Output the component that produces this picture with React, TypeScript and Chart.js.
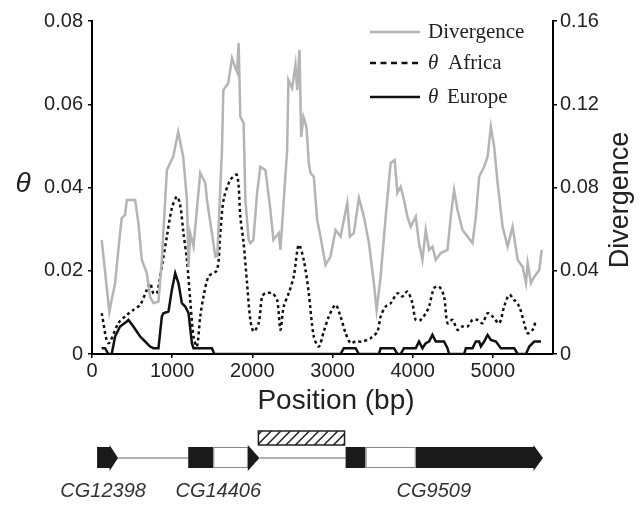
import React, { useEffect, useRef } from "react";
import { Chart, registerables } from "chart.js";

Chart.register(...registerables);

// ---------- data ----------
const seriesNames = ["Divergence", "Africa", "Europe"];

const divPos = [121,216,288,350,371,413,434,538,579,621,684,725,766,829,871,934,975,1013,1075,1138,1184,1204,1225,1266,1350,1413,1434,1496,1538,1563,1621,1638,1700,1746,1788,1809,1829,1850,1891,1913,1954,1975,2013,2059,2100,2163,2225,2263,2329,2350,2434,2450,2496,2538,2559,2588,2609,2638,2675,2704,2725,2766,2809,2850,2913,2975,3038,3100,3184,3216,3266,3329,3391,3454,3516,3550,3600,3663,3725,3775,3809,3850,3891,3934,3975,4038,4079,4121,4163,4204,4246,4288,4350,4434,4475,4516,4559,4621,4684,4746,4788,4829,4891,4934,4975,5016,5059,5121,5184,5246,5309,5371,5413,5434,5475,5516,5579,5609];
const divVal = [0.0548,0.0203,0.0341,0.0581,0.0653,0.0668,0.0740,0.0740,0.0629,0.0452,0.0389,0.0275,0.0245,0.0251,0.0452,0.0884,0.0918,0.0947,0.1067,0.0947,0.0740,0.0419,0.0581,0.0516,0.0870,0.0822,0.0740,0.0581,0.0468,0.0471,0.0980,0.1268,0.1302,0.1422,0.1374,0.1356,0.1494,0.1139,0.1110,0.0740,0.0548,0.0533,0.0548,0.0774,0.0899,0.0884,0.0692,0.0548,0.0581,0.0500,0.0980,0.1317,0.1278,0.1389,0.1268,0.1461,0.1043,0.1139,0.1091,0.0918,0.0870,0.0852,0.0644,0.0564,0.0428,0.0468,0.0596,0.0564,0.0726,0.0564,0.0581,0.0750,0.0660,0.0533,0.0341,0.0211,0.0371,0.0660,0.0918,0.0932,0.0774,0.0804,0.0740,0.0660,0.0612,0.0660,0.0533,0.0452,0.0596,0.0500,0.0516,0.0452,0.0485,0.0500,0.0660,0.0788,0.0692,0.0596,0.0564,0.0533,0.0660,0.0852,0.0900,0.0948,0.1092,0.0996,0.0822,0.0612,0.0516,0.0612,0.0452,0.0419,0.0341,0.0437,0.0341,0.0371,0.0404,0.0500];

const afrPos = [121,204,329,434,516,600,684,725,766,809,871,934,996,1059,1100,1141,1184,1225,1266,1309,1350,1391,1454,1559,1600,1641,1725,1809,1850,1891,1934,1975,2016,2079,2121,2163,2246,2309,2350,2391,2454,2516,2579,2641,2704,2766,2829,2891,2954,3038,3100,3163,3225,3288,3371,3475,3559,3600,3663,3725,3809,3871,3934,3996,4038,4100,4163,4204,4266,4329,4391,4434,4496,4559,4621,4684,4746,4809,4871,4934,4996,5079,5141,5204,5266,5329,5391,5434,5496,5538];
const afrVal = [0.0098,0.0026,0.0074,0.0094,0.0106,0.0118,0.0154,0.0170,0.0146,0.0146,0.0210,0.0282,0.0350,0.0378,0.0358,0.0290,0.0226,0.0130,0.0042,0.0018,0.0090,0.0138,0.0186,0.0202,0.0290,0.0370,0.0418,0.0430,0.0330,0.0266,0.0170,0.0082,0.0054,0.0074,0.0138,0.0146,0.0146,0.0130,0.0058,0.0114,0.0146,0.0186,0.0262,0.0226,0.0146,0.0042,0.0018,0.0054,0.0090,0.0118,0.0090,0.0050,0.0026,0.0030,0.0030,0.0038,0.0054,0.0090,0.0114,0.0122,0.0146,0.0138,0.0150,0.0122,0.0082,0.0082,0.0098,0.0114,0.0158,0.0162,0.0138,0.0074,0.0082,0.0058,0.0066,0.0066,0.0082,0.0082,0.0074,0.0098,0.0090,0.0074,0.0114,0.0142,0.0130,0.0114,0.0074,0.0050,0.0058,0.0082];

const eurPos = [121,163,204,246,288,350,434,454,516,600,663,725,766,829,871,891,954,996,1038,1079,1121,1163,1204,1246,1266,1496,1525,3100,3141,3288,3329,3579,3600,3766,3809,3850,3891,4038,4079,4121,4163,4204,4246,4288,4391,4434,4454,4641,4663,4746,4788,4829,4850,4891,4934,4975,5038,5100,5266,5309,5413,5454,5516,5600];
const eurVal = [0.0014,0.0014,0,0,0.0042,0.0066,0.0078,0.0082,0.0066,0.0042,0.0030,0.0018,0.0014,0.0014,0.0090,0.0098,0.0102,0.0154,0.0194,0.0170,0.0122,0.0114,0.0098,0.0026,0.0014,0.0014,0,0,0.0014,0.0014,0,0,0.0014,0.0014,0,0,0.0014,0.0014,0.0030,0.0014,0.0026,0.0030,0.0046,0.0030,0.0030,0.0014,0,0,0.0014,0.0014,0.0030,0.0030,0.0018,0.0030,0.0046,0.0034,0.0030,0.0014,0.0014,0,0,0.0018,0.0030,0.0030];

const xTicks = [0, 1000, 2000, 3000, 4000, 5000];
const thetaTicks = [0, 0.02, 0.04, 0.06, 0.08];
const divTicks = [0, 0.04, 0.08, 0.12, 0.16];

// gene model (bp)
const geneNames = ["CG12398", "CG14406", "CG9509"];
const geneLabelPos = [138, 1575, 4263];
const codingExons = [[63, 225], [1200, 1513], [3163, 3413], [4038, 5513]];
const utrExons = [[1513, 1950], [3413, 4038]];
const arrowHeads = [[225, 325], [1950, 2088], [5513, 5625]];
const introns = [[325, 1200], [2088, 3163]];
const hatchedRegion = [2075, 3150];

const SANS = "'Liberation Sans', Arial, sans-serif";
const SERIF = "'Liberation Serif', 'Times New Roman', serif";

const toPts = (xs: number[], ys: number[]) => xs.map((x, i) => ({ x, y: ys[i] }));

const decorPlugin = {
  id: "decor",
  afterDraw(chart: any) {
    const ctx = chart.ctx as CanvasRenderingContext2D;
    const xs = chart.scales.x;
    const px = (v: number) => xs.getPixelForValue(v);
    ctx.save();

    // axis titles
    ctx.fillStyle = "#222";
    ctx.textAlign = "center";
    ctx.textBaseline = "middle";
    ctx.font = `28px ${SANS}`;
    ctx.fillText("Position (bp)", 336, 401);
    ctx.font = `italic 28px ${SANS}`;
    ctx.fillText("\u03B8", 23, 184);
    ctx.save();
    ctx.translate(621, 200);
    ctx.rotate(-Math.PI / 2);
    ctx.font = `27px ${SANS}`;
    ctx.fillText("Divergence", 0, 0);
    ctx.restore();

    // legend
    const lx0 = 370, lx1 = 420, tx = 428;
    const rows = [32, 63, 97];
    ctx.lineWidth = 2.5;
    ctx.strokeStyle = "#b4b4b4";
    ctx.setLineDash([]);
    ctx.beginPath(); ctx.moveTo(lx0, rows[0]); ctx.lineTo(lx1, rows[0]); ctx.stroke();
    ctx.strokeStyle = "#111";
    ctx.setLineDash([6, 4.5]);
    ctx.beginPath(); ctx.moveTo(lx0, rows[1]); ctx.lineTo(lx1, rows[1]); ctx.stroke();
    ctx.setLineDash([]);
    ctx.beginPath(); ctx.moveTo(lx0, rows[2]); ctx.lineTo(lx1, rows[2]); ctx.stroke();
    ctx.textAlign = "left";
    ctx.fillStyle = "#222";
    ctx.font = `21px ${SERIF}`;
    ctx.fillText(seriesNames[0], tx, rows[0]);
    ctx.font = `italic 21px ${SERIF}`;
    ctx.fillText("\u03B8", tx, rows[1]);
    ctx.fillText("\u03B8", tx, rows[2]);
    ctx.font = `21px ${SERIF}`;
    ctx.fillText(seriesNames[1], tx + 20, rows[1]);
    ctx.fillText(seriesNames[2], tx + 19, rows[2]);

    // gene model
    const yMid = 458, bTop = 447, bBot = 468, aTop = 445, aBot = 471;
    ctx.strokeStyle = "#666";
    ctx.lineWidth = 1;
    introns.forEach(([a, b]) => {
      ctx.beginPath(); ctx.moveTo(px(a), yMid); ctx.lineTo(px(b), yMid); ctx.stroke();
    });
    ctx.fillStyle = "#1a1a1a";
    codingExons.forEach(([a, b]) => {
      ctx.fillRect(px(a), bTop, px(b) - px(a), bBot - bTop);
    });
    utrExons.forEach(([a, b]) => {
      ctx.fillStyle = "#fff";
      ctx.fillRect(px(a), bTop, px(b) - px(a), bBot - bTop);
      ctx.strokeStyle = "#888";
      ctx.strokeRect(px(a) + 0.5, bTop + 0.5, px(b) - px(a) - 1, bBot - bTop - 1);
    });
    ctx.fillStyle = "#1a1a1a";
    arrowHeads.forEach(([a, b]) => {
      ctx.beginPath();
      ctx.moveTo(px(a) - 0.5, aTop);
      ctx.lineTo(px(b), yMid);
      ctx.lineTo(px(a) - 0.5, aBot);
      ctx.closePath();
      ctx.fill();
    });
    // hatched box
    const hx0 = px(hatchedRegion[0]), hx1 = px(hatchedRegion[1]);
    const hy0 = 431, hy1 = 445;
    ctx.fillStyle = "#fff";
    ctx.fillRect(hx0, hy0, hx1 - hx0, hy1 - hy0);
    ctx.save();
    ctx.beginPath();
    ctx.rect(hx0, hy0, hx1 - hx0, hy1 - hy0);
    ctx.clip();
    ctx.strokeStyle = "#222";
    ctx.lineWidth = 1.5;
    for (let x = hx0 - 20; x < hx1 + 20; x += 9.5) {
      ctx.beginPath();
      ctx.moveTo(x, hy1);
      ctx.lineTo(x + (hy1 - hy0), hy0);
      ctx.stroke();
    }
    ctx.restore();
    ctx.strokeStyle = "#222";
    ctx.lineWidth = 1.5;
    ctx.strokeRect(hx0, hy0, hx1 - hx0, hy1 - hy0);

    // gene labels
    ctx.fillStyle = "#333";
    ctx.textAlign = "center";
    ctx.font = `italic 20px ${SANS}`;
    geneNames.forEach((n, i) => ctx.fillText(n, px(geneLabelPos[i]), 491));

    ctx.restore();
  },
};

export default function App() {
  const ref = useRef<HTMLCanvasElement | null>(null);
  useEffect(() => {
    if (!ref.current) return;
    const tickFont = { family: SANS, size: 20 };
    const chart = new Chart(ref.current, {
      type: "line",
      data: {
        datasets: [
          {
            label: seriesNames[0],
            data: toPts(divPos, divVal),
            yAxisID: "y2",
            borderColor: "#b4b4b4",
            borderWidth: 2.5,
            pointRadius: 0,
            tension: 0,
          },
          {
            label: seriesNames[1],
            data: toPts(afrPos, afrVal),
            yAxisID: "y",
            borderColor: "#111",
            borderWidth: 2.5,
            borderDash: [3, 3],
            pointRadius: 0,
            tension: 0.3,
          },
          {
            label: seriesNames[2],
            data: toPts(eurPos, eurVal),
            yAxisID: "y",
            borderColor: "#111",
            borderWidth: 2.5,
            pointRadius: 0,
            tension: 0,
          },
        ],
      },
      options: {
        responsive: false,
        animation: false,
        events: [],
        layout: { padding: { top: 21, left: 0, right: 0, bottom: 0 } },
        plugins: { legend: { display: false }, tooltip: { enabled: false } },
        scales: {
          x: {
            type: "linear",
            min: 0,
            max: 5750,
            afterBuildTicks: (s: any) => { s.ticks = xTicks.map((v) => ({ value: v })); },
            afterFit: (s: any) => { s.height = 151; },
            grid: { drawOnChartArea: false, drawTicks: true, tickLength: 4, color: "#000", lineWidth: 1.5 },
            border: { display: true, color: "#000", width: 2 },
            ticks: { font: tickFont, color: "#222", padding: 1, maxRotation: 0, autoSkip: false, callback: (v: any) => String(v) },
          },
          y: {
            position: "left",
            min: 0,
            max: 0.08,
            afterBuildTicks: (s: any) => { s.ticks = thetaTicks.map((v) => ({ value: v })); },
            afterFit: (s: any) => { s.width = 92; },
            grid: { drawOnChartArea: false, drawTicks: true, tickLength: 4, color: "#000", lineWidth: 1.5 },
            border: { display: true, color: "#000", width: 2 },
            ticks: { font: tickFont, color: "#222", padding: 5, callback: (v: any) => (v === 0 ? "0" : Number(v).toFixed(2)) },
          },
          y2: {
            position: "right",
            min: 0,
            max: 0.16,
            afterBuildTicks: (s: any) => { s.ticks = divTicks.map((v) => ({ value: v })); },
            afterFit: (s: any) => { s.width = 89; },
            grid: { drawOnChartArea: false, drawTicks: true, tickLength: 4, color: "#000", lineWidth: 1.5 },
            border: { display: true, color: "#000", width: 2 },
            ticks: { font: tickFont, color: "#222", padding: 3, callback: (v: any) => (v === 0 ? "0" : Number(v).toFixed(2)) },
          },
        },
      } as any,
      plugins: [decorPlugin],
    });
    return () => chart.destroy();
  }, []);

  return (
    <div style={{ position: "fixed", left: 0, top: 0, width: 642, height: 505, background: "#fff" }}>
      <canvas ref={ref} width={642} height={505} style={{ width: 642, height: 505, display: "block" }} />
    </div>
  );
}
